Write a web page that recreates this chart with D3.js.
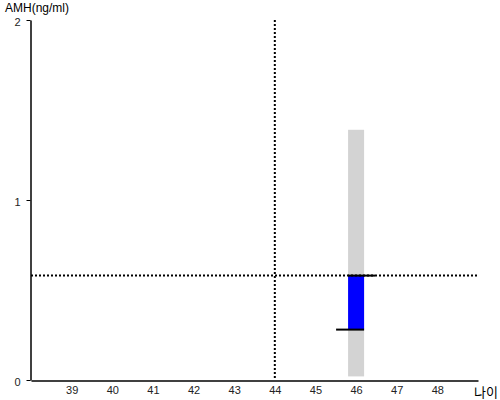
<!DOCTYPE html>
<html>
<head>
<meta charset="utf-8">
<script src="https://cdn.jsdelivr.net/npm/d3@7"></script>
<style>
  body { margin: 0; background: #fff; }
  svg { font-family: "Liberation Sans", Arial, sans-serif; }
</style>
</head>
<body>
<svg width="500" height="400"></svg>
<script>
// data
var xTicks = [39, 40, 41, 42, 43, 44, 45, 46, 47, 48]
var yTicks = [0, 1, 2]
var refAge = 44          // vertical dotted line
var refAmh = 0.58        // horizontal dotted line
var rangeBar = { age: 46, low: 0.02, high: 1.39 }   // gray band
var valueBar = { age: 46, low: 0.28, high: 0.58 }   // blue bar

var svg = d3.select('svg')
var x = d3.scaleLinear().domain([38, 49]).range([31, 478])
var y = d3.scaleLinear().domain([0, 2]).range([380, 20])
var halfW = 8

// gray band
svg.append('rect')
  .attr('x', x(rangeBar.age) - halfW)
  .attr('y', y(rangeBar.high))
  .attr('width', halfW * 2)
  .attr('height', y(rangeBar.low) - y(rangeBar.high))
  .attr('fill', '#d3d3d3')

// blue bar
svg.append('rect')
  .attr('x', x(valueBar.age) - halfW)
  .attr('y', y(valueBar.high))
  .attr('width', halfW * 2)
  .attr('height', y(valueBar.low) - y(valueBar.high))
  .attr('fill', '#0000ff')

// dotted reference lines
svg.append('line')
  .attr('x1', x(38)).attr('x2', x(49))
  .attr('y1', y(refAmh)).attr('y2', y(refAmh))
  .attr('stroke', '#000').attr('stroke-width', 2).attr('stroke-dasharray', '2,2')
svg.append('line')
  .attr('x1', x(refAge)).attr('x2', x(refAge))
  .attr('y1', y(2)).attr('y2', y(0))
  .attr('stroke', '#000').attr('stroke-width', 2).attr('stroke-dasharray', '2,2')

// end markers of the blue bar
svg.append('line')
  .attr('x1', x(valueBar.age) - halfW).attr('x2', x(valueBar.age) + halfW + 11)
  .attr('y1', y(valueBar.high)).attr('y2', y(valueBar.high))
  .attr('stroke', '#000').attr('stroke-width', 2)
svg.append('line')
  .attr('x1', x(valueBar.age) - halfW - 12).attr('x2', x(valueBar.age) + halfW)
  .attr('y1', y(valueBar.low)).attr('y2', y(valueBar.low))
  .attr('stroke', '#000').attr('stroke-width', 2)

// axes
var xAxis = svg.append('g').attr('transform', 'translate(0,380.5)')
  .call(d3.axisBottom(x).tickValues(xTicks).tickSize(0).tickPadding(6).tickFormat(d3.format('d')))
xAxis.select('.domain').attr('stroke-width', 1.5)
xAxis.selectAll('text').attr('font-size', 11).attr('font-family', '"Liberation Sans", Arial, sans-serif').attr('fill', '#222')

var yAxis = svg.append('g').attr('transform', 'translate(30.5,0)')
  .call(d3.axisLeft(y).tickValues(yTicks).tickSizeInner(4).tickSizeOuter(0).tickPadding(6).tickFormat(d3.format('d')))
yAxis.select('.domain').attr('stroke-width', 1.5)
yAxis.selectAll('text').attr('font-size', 11).attr('dy', '0.5em')
  .attr('font-family', '"Liberation Sans", Arial, sans-serif').attr('fill', '#222')

// axis titles
svg.append('text').attr('x', 5).attr('y', 12).attr('font-size', 12).text('AMH(ng/ml)')
svg.append('text').attr('x', 474).attr('y', 397).attr('font-size', 13)
  .attr('font-family', '"Noto Sans CJK KR", sans-serif').text('나이')
</script>
</body>
</html>
